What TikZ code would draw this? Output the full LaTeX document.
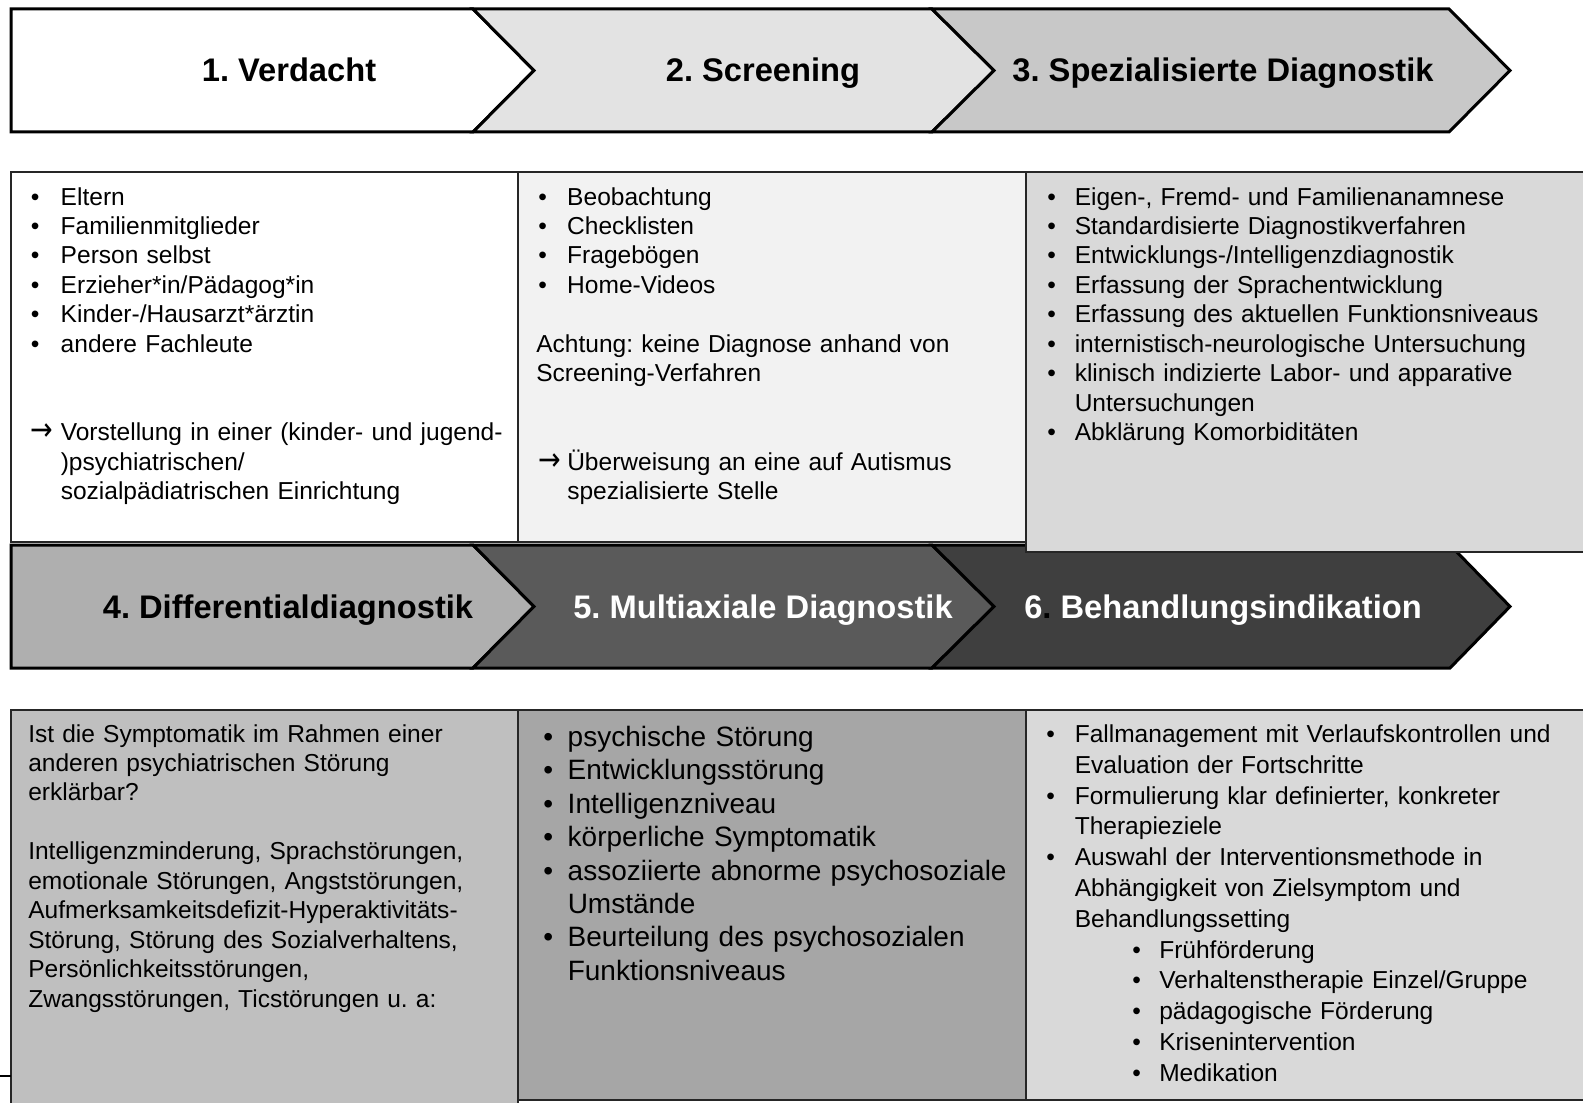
\documentclass[tikz,border=0pt]{standalone}
\usepackage{fontspec}
\usepackage{graphicx}
\setmainfont{Liberation Sans}
\newfontfamily\symfont{DejaVu Sans}
\frenchspacing

\definecolor{stepB}{HTML}{E3E3E3}
\definecolor{stepC}{HTML}{C8C8C8}
\definecolor{stepD}{HTML}{AFAFAF}
\definecolor{stepE}{HTML}{5A5A5A}
\definecolor{stepF}{HTML}{3F3F3F}
\definecolor{cellB}{HTML}{F2F2F2}
\definecolor{cellC}{HTML}{D9D9D9}
\definecolor{cellD}{HTML}{BFBFBF}
\definecolor{cellE}{HTML}{A6A6A6}

\newdimen\pxu \pxu=0.75pt
\newif\iffirstpt
\def\bx{0}\def\tx{30}
\newcommand{\pnt}[1]{\iffirstpt\firstptfalse\else\par\fi\hangindent=\tx\pxu\hangafter=1\noindent\makebox[\tx\pxu][l]{\hspace*{\bx\pxu}#1}}
\newcommand{\bul}{\pnt{\textbullet}}
\newcommand{\arr}{\pnt{\scalebox{1.1}[1.3]{\symfont →}}}
\newcommand{\blank}{\par\mbox{}\par}

\begin{document}
\begin{tikzpicture}[x=0.75pt, y=-0.75pt,
  chev/.style={draw=black, line width=2.25pt, line join=miter},
  cell/.style={draw=black!85, line width=1pt},
  head/.style={anchor=base, inner sep=0pt, font=\fontsize{24.5}{29}\selectfont\bfseries},
  body/.style={anchor=base west, inner sep=0pt, align=left, text width=#1, font=\fontsize{18.4}{22.1}\selectfont, execute at begin node=\firstpttrue}]
\useasboundingbox (0,0) rectangle (1583,1102);
\clip (0,0) rectangle (1583,1102);
\fill[white] (0,0) rectangle (1583,1102);

\filldraw[chev, fill=white] (11,9) -- (473,9) -- (534,70.5) -- (473,132) -- (11,132) -- cycle;
\filldraw[chev, fill=stepB] (473,9) -- (932,9) -- (994,70.5) -- (932,132) -- (473,132) -- (534,70.5) -- cycle;
\filldraw[chev, fill=stepC] (932,9) -- (1449,9) -- (1510,70.5) -- (1449,132) -- (932,132) -- (994,70.5) -- cycle;
\filldraw[chev, fill=stepD] (11,545) -- (473,545) -- (534,606.5) -- (473,668) -- (11,668) -- cycle;
\filldraw[chev, fill=stepE] (473,545) -- (932,545) -- (994,606.5) -- (932,668) -- (473,668) -- (534,606.5) -- cycle;
\filldraw[chev, fill=stepF] (932,545) -- (1450,545) -- (1510,606.5) -- (1450,668) -- (932,668) -- (994,606.5) -- cycle;

\filldraw[cell, fill=white] (11,172) rectangle (518,542);
\filldraw[cell, fill=cellB] (518,172) rectangle (1026,542);
\filldraw[cell, fill=cellC] (1026,172) rectangle (1595,552);
\filldraw[cell, fill=cellD] (11,710) rectangle (518,1115);
\filldraw[cell, fill=cellE] (518,710) rectangle (1026,1100);
\filldraw[cell, fill=cellC] (1026,710) rectangle (1595,1100);
\draw[line width=1.2pt] (0,1076) -- (11,1076);

\node[head] (verdacht) at (289,82) {1. Verdacht};
\node[head] (screening) at (763,82) {2. Screening};
\node[head] (spezial) at (1223,82) {3. Spezialisierte Diagnostik};
\node[head] (differential) at (288,618.5) {4. Differentialdiagnostik};
\node[head, text=white] (multiaxial) at (763,618.5) {5. Multiaxiale Diagnostik};
\node[head, text=white] (behandlung) at (1223,618.5) {6\textcolor{black}{.} Behandlungsindikation};

\node[body=380pt] (verdachtText) at (30.5,205) {\def\bx{0}\def\tx{30}%
\bul Eltern
\bul Familienmitglieder
\bul Person selbst
\bul Erzieher*in/Pädagog*in
\bul Kinder-/Hausarzt*ärztin
\bul andere Fachleute
\blank\blank
\arr Vorstellung in einer (kinder- und jugend-\newline )psychiatrischen/\newline sozialpädiatrischen Einrichtung\par};

\node[body=380pt] (screeningText) at (536,205) {\def\bx{2}\def\tx{31}%
\bul Beobachtung
\bul Checklisten
\bul Fragebögen
\bul Home-Videos
\blank
\noindent Achtung: keine Diagnose anhand von\newline Screening-Verfahren
\blank\blank
\arr Überweisung an eine auf Autismus\newline spezialisierte Stelle\par};

\node[body=400pt] (spezialText) at (1047,205) {\def\bx{0}\def\tx{27.5}%
\bul Eigen-, Fremd- und Familienanamnese
\bul Standardisierte Diagnostikverfahren
\bul Entwicklungs-/Intelligenzdiagnostik
\bul Erfassung der Sprachentwicklung
\bul Erfassung des aktuellen Funktionsniveaus
\bul internistisch-neurologische Untersuchung
\bul klinisch indizierte Labor- und apparative\newline Untersuchungen
\bul Abklärung Komorbiditäten\par};

\node[body=380pt] (differentialText) at (28,742) {%
Ist die Symptomatik im Rahmen einer\newline anderen psychiatrischen Störung\newline erklärbar?
\blank
\noindent Intelligenzminderung, Sprachstörungen,\newline emotionale Störungen, Angststörungen,\newline Aufmerksamkeitsdefizit-Hyperaktivitäts-\newline Störung, Störung des Sozialverhaltens,\newline Persönlichkeitsstörungen,\newline Zwangsstörungen, Ticstörungen u. a:\par};

\node[body=380pt, font=\fontsize{21}{25.05}\selectfont] (multiaxialText) at (542,746.5) {\def\bx{1}\def\tx{25.5}%
\bul psychische Störung
\bul Entwicklungsstörung
\bul Intelligenzniveau
\bul körperliche Symptomatik
\bul assoziierte abnorme psychosoziale\newline Umstände
\bul Beurteilung des psychosozialen\newline Funktionsniveaus\par};

\node[body=400pt, font=\fontsize{18.4}{23.1}\selectfont] (behandlungText) at (1046,742.5) {\def\bx{0}\def\tx{28.5}%
\bul Fallmanagement mit Verlaufskontrollen und\newline Evaluation der Fortschritte
\bul Formulierung klar definierter, konkreter\newline Therapieziele
\bul Auswahl der Interventionsmethode in\newline Abhängigkeit von Zielsymptom und\newline Behandlungssetting
\def\bx{86}\def\tx{113}%
\bul Frühförderung
\bul Verhaltenstherapie Einzel/Gruppe
\bul pädagogische Förderung
\bul Krisenintervention
\bul Medikation\par};
\end{tikzpicture}
\end{document}
